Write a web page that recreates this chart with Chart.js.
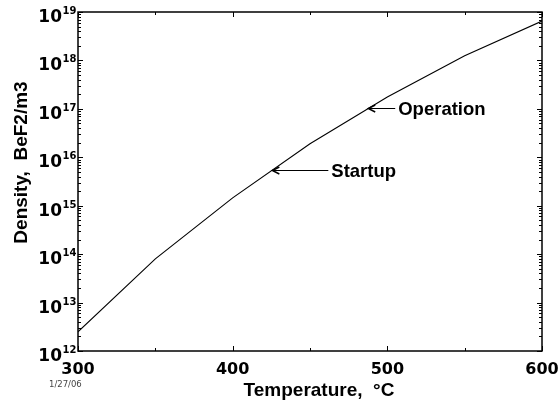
<!DOCTYPE html>
<html>
<head>
<meta charset="utf-8">
<script src="https://cdn.jsdelivr.net/npm/chart.js@4/dist/chart.umd.min.js"></script>
<style>
  html, body { margin: 0; padding: 0; background: #fff; }
  #c { display: block; }
</style>
</head>
<body>
<canvas id="c" width="559" height="402"></canvas>
<script>
// Vapour density of BeF2 versus temperature
const temperatureC = [300, 350, 400, 450, 500, 550, 600];
const densityBeF2 = [2.5e12, 8e13, 1.45e15, 1.9e16, 1.75e17, 1.25e18, 6.5e18];

// Axis ticks
const xTickLabels = [300, 400, 500, 600];
const xMinorTicks = [350, 450, 550];
const yDecadeExponents = [12, 13, 14, 15, 16, 17, 18, 19];

// Operating points marked with arrows
const noteLabels = ['Startup', 'Operation'];
const noteTemps = [425, 487];
const noteDensity = [5.5e15, 1.05e17];

const dateStamp = '1/27/06';

const NUM_FONT = '"DejaVu Sans", sans-serif';
const TXT_FONT = '"Liberation Sans", Arial, sans-serif';

const frameAndLabels = {
  id: 'frameAndLabels',
  afterDraw(chart) {
    const ctx = chart.ctx;
    const { left, right, top, bottom } = chart.chartArea;
    const xs = chart.scales.x;
    const ys = chart.scales.y;
    ctx.save();

    // Box frame
    ctx.strokeStyle = '#000';
    ctx.lineWidth = 1.5;
    ctx.strokeRect(left, top, right - left, bottom - top);

    // Inward ticks on all four sides
    ctx.lineWidth = 1;
    ctx.beginPath();
    const majLen = 5, minLen = 3;
    xTickLabels.forEach(v => {
      const x = Math.round(xs.getPixelForValue(v)) + 0.5;
      ctx.moveTo(x, bottom); ctx.lineTo(x, bottom - majLen);
      ctx.moveTo(x, top); ctx.lineTo(x, top + majLen);
    });
    xMinorTicks.forEach(v => {
      const x = Math.round(xs.getPixelForValue(v)) + 0.5;
      ctx.moveTo(x, bottom); ctx.lineTo(x, bottom - minLen);
      ctx.moveTo(x, top); ctx.lineTo(x, top + minLen);
    });
    yDecadeExponents.forEach((e, i) => {
      const y = Math.round(ys.getPixelForValue(Math.pow(10, e))) + 0.5;
      ctx.moveTo(left, y); ctx.lineTo(left + majLen, y);
      ctx.moveTo(right, y); ctx.lineTo(right - majLen, y);
      if (i < yDecadeExponents.length - 1) {
        for (let m = 2; m <= 9; m++) {
          const ym = Math.round(ys.getPixelForValue(m * Math.pow(10, e))) + 0.5;
          ctx.moveTo(left, ym); ctx.lineTo(left + minLen, ym);
          ctx.moveTo(right, ym); ctx.lineTo(right - minLen, ym);
        }
      }
    });
    ctx.stroke();

    // Y tick labels: 10 with superscript exponent
    ctx.fillStyle = '#000';
    yDecadeExponents.forEach(e => {
      const y = ys.getPixelForValue(Math.pow(10, e));
      ctx.font = 'bold 17px ' + NUM_FONT;
      ctx.textAlign = 'right';
      ctx.textBaseline = 'alphabetic';
      ctx.fillText('10', 62, y + 10);
      ctx.font = 'bold 10px ' + NUM_FONT;
      ctx.textAlign = 'left';
      ctx.fillText(String(e), 62.5, y + 2);
    });

    // X tick labels
    ctx.font = 'bold 16px ' + NUM_FONT;
    ctx.textAlign = 'center';
    xTickLabels.forEach(v => {
      ctx.fillText(String(v), xs.getPixelForValue(v), 374);
    });

    // Axis titles
    ctx.font = 'bold 19px ' + TXT_FONT;
    ctx.textAlign = 'center';
    ctx.fillText('Temperature,  \u00B0C', 319, 395.5);
    ctx.save();
    ctx.translate(27, 162.5);
    ctx.rotate(-Math.PI / 2);
    ctx.fillText('Density,  BeF2/m3', 0, 0);
    ctx.restore();

    // Arrows with labels
    const gaps = [60, 31];
    noteLabels.forEach((label, i) => {
      const px = xs.getPixelForValue(noteTemps[i]);
      const py = Math.round(ys.getPixelForValue(noteDensity[i])) + 0.5;
      const tx = px + gaps[i];
      ctx.lineWidth = 1;
      ctx.beginPath();
      ctx.moveTo(px + 1, py); ctx.lineTo(tx - 3, py);
      ctx.stroke();
      ctx.lineWidth = 1.4;
      ctx.beginPath();
      ctx.moveTo(px + 8, py - 3.5); ctx.lineTo(px + 1, py); ctx.lineTo(px + 8, py + 3.5);
      ctx.stroke();
      ctx.font = 'bold 18.5px ' + TXT_FONT;
      ctx.textAlign = 'left';
      ctx.textBaseline = 'middle';
      ctx.fillText(label, tx, py + 1);
    });

    // Date stamp
    ctx.font = '8.5px ' + NUM_FONT;
    ctx.fillStyle = '#444';
    ctx.textAlign = 'left';
    ctx.textBaseline = 'alphabetic';
    ctx.fillText(dateStamp, 49, 387);

    ctx.restore();
  }
};

new Chart(document.getElementById('c'), {
  type: 'line',
  data: {
    datasets: [{
      data: temperatureC.map((t, i) => ({ x: t, y: densityBeF2[i] })),
      borderColor: '#000',
      borderWidth: 1.1,
      pointRadius: 0,
      tension: 0,
      fill: false
    }]
  },
  options: {
    responsive: false,
    animation: false,
    devicePixelRatio: 1,
    layout: { padding: { top: 12, right: 17, left: 0, bottom: 0 } },
    plugins: { legend: { display: false }, tooltip: { enabled: false } },
    scales: {
      x: {
        type: 'linear', min: 300, max: 600,
        ticks: { display: false },
        grid: { display: false },
        border: { display: false },
        afterFit(s) { s.height = 51; }
      },
      y: {
        type: 'logarithmic', min: 1e12, max: 1e19,
        ticks: { display: false },
        grid: { display: false },
        border: { display: false },
        afterFit(s) { s.width = 78; }
      }
    }
  },
  plugins: [frameAndLabels]
});
</script>
</body>
</html>
